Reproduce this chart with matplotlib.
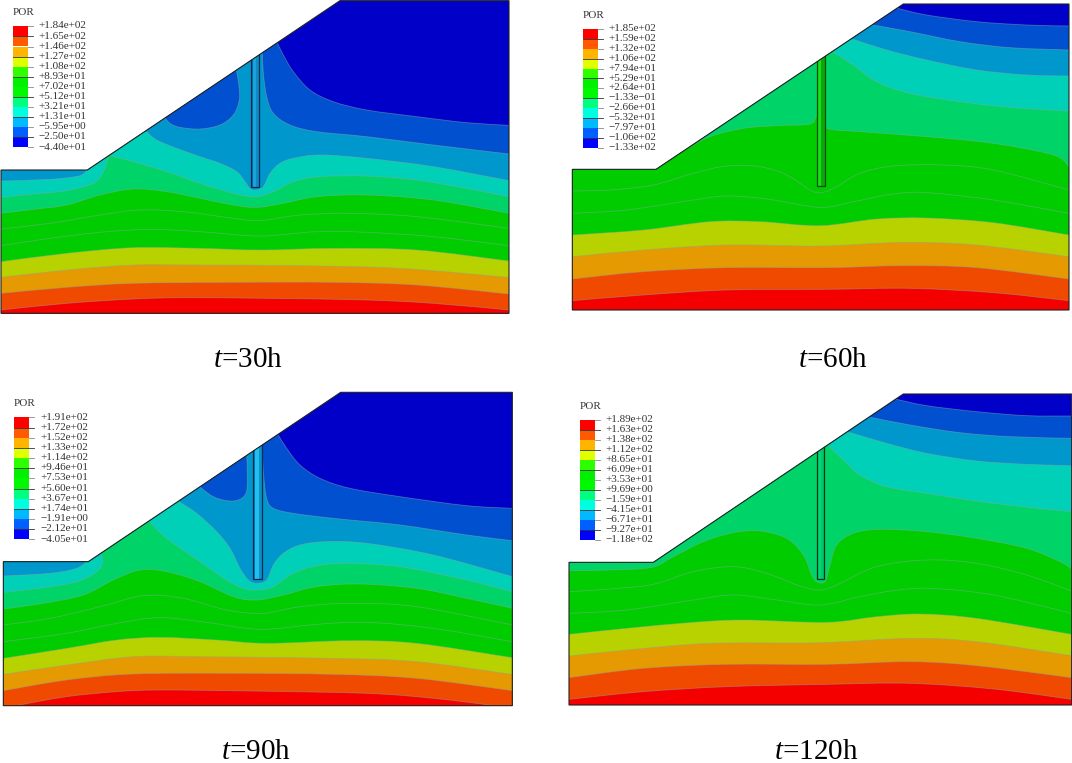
import numpy as np
import matplotlib
matplotlib.use("Agg")
import matplotlib.pyplot as plt
from matplotlib.path import Path
from matplotlib.patches import PathPatch, Polygon, Rectangle

plt.rcParams['font.family'] = ['Liberation Serif', 'DejaVu Serif']
plt.rcParams['mathtext.fontset'] = 'custom'
plt.rcParams['mathtext.rm'] = 'Liberation Serif'
plt.rcParams['mathtext.it'] = 'Liberation Serif:italic'

# ---- legend labels -------------------------------------------------------
labels_30 = ["+1.84e+02","+1.65e+02","+1.46e+02","+1.27e+02","+1.08e+02","+8.93e+01","+7.02e+01","+5.12e+01","+3.21e+01","+1.31e+01","\u22125.95e+00","\u22122.50e+01","\u22124.40e+01"]
labels_60 = ["+1.85e+02","+1.59e+02","+1.32e+02","+1.06e+02","+7.94e+01","+5.29e+01","+2.64e+01","\u22121.33e\u221201","\u22122.66e+01","\u22125.32e+01","\u22127.97e+01","\u22121.06e+02","\u22121.33e+02"]
labels_90 = ["+1.91e+02","+1.72e+02","+1.52e+02","+1.33e+02","+1.14e+02","+9.46e+01","+7.53e+01","+5.60e+01","+3.67e+01","+1.74e+01","\u22121.91e+00","\u22122.12e+01","\u22124.05e+01"]
labels_120 = ["+1.89e+02","+1.63e+02","+1.38e+02","+1.12e+02","+8.65e+01","+6.09e+01","+3.53e+01","+9.69e+00","\u22121.59e+01","\u22124.15e+01","\u22126.71e+01","\u22129.27e+01","\u22121.18e+02"]

# contour colours, top of the slope to the bottom
band_colors = ['#0000c8','#0050d0','#0098cc','#00d0b8','#00d468','#00cc00','#00cc00','#00cc00','#b8d200','#e49a00','#f04a00','#f50000']
legend_colors = ['#ff0000','#ff5a00','#ffb400','#e0ff00','#2eff00','#00f000','#00f800','#00ff80','#00ffe0','#00b9ff','#0060ff','#0000ff']

# ---- t = 30 h ------------------------------------------------------------
dom_30 = [(3,510),(262,510),(1020,2),(1527,2),(1527,940),(3,940)]
b30_1 = [(832,128),(850,165),(880,215),(930,270),(1000,305),(1100,330),(1250,350),(1400,368),(1527,376)]
b30_2 = [(787,160),(790,220),(800,290),(820,340),(870,375),(950,395),(1100,410),(1300,435),(1527,462)]
b30_3 = [(440,395),(470,420),(530,445),(600,470),(660,490),(710,515),(735,545),(750,565),(765,570),(790,560),(810,520),(840,490),(880,475),(960,465),(1100,475),(1300,500),(1527,542)]
b30_4 = [(330,467),(400,485),(500,515),(600,550),(700,580),(765,590),(820,575),(880,545),(960,530),(1100,528),(1250,540),(1400,565),(1527,590)]
b30_5 = [(3,640),(100,628),(200,615),(300,585),(400,567),(500,575),(600,595),(700,615),(770,622),(850,610),(950,590),(1100,585),(1300,600),(1527,640)]
b30_6 = [(3,687),(150,670),(300,645),(420,630),(550,635),(700,655),(780,662),(900,645),(1050,640),(1250,650),(1527,685)]
b30_7 = [(3,737),(150,715),(300,697),(450,688),(600,695),(780,708),(950,695),(1100,697),(1300,710),(1527,737)]
b30_8 = [(3,785),(200,760),(400,743),(600,745),(780,750),(1000,745),(1250,750),(1527,783)]
b30_9 = [(3,832),(200,810),(400,795),(600,795),(900,797),(1200,805),(1527,832)]
b30_10 = [(3,880),(200,862),(400,850),(700,847),(1000,847),(1250,855),(1527,882)]
b30_11 = [(3,930),(200,910),(400,897),(550,893),(800,895),(1100,900),(1300,910),(1527,930)]
pocket_30 = [(708,205),(716,250),(718,300),(700,345),(660,375),(600,387),(540,382),(510,370),(488,345)]
cyan_30 = [(3,592),(100,582),(200,572),(280,550),(305,525),(320,490),(328,462)]
teal_30 = [(3,543),(150,538),(240,527),(262,505)]

# ---- t = 60 h ------------------------------------------------------------
dom_60 = [(37,508),(288,508),(1030,12),(1527,12),(1527,930),(37,930)]
b60_1 = [(1008,24),(1100,45),(1250,65),(1400,75),(1527,78)]
b60_2 = [(938,75),(1050,95),(1200,125),(1350,143),(1527,150)]
b60_3 = [(880,118),(980,150),(1100,180),(1250,210),(1400,225),(1527,228)]
b60_4 = [(820,157),(880,195),(950,245),(1050,280),(1200,305),(1350,322),(1527,333)]
b60_5 = [(375,450),(450,410),(550,385),(650,377),(750,372),(768,350),(785,350),(800,385),(900,395),(1100,410),(1300,430),(1480,465),(1527,500)]
b60_6 = [(37,573),(150,570),(280,555),(400,520),(500,498),(600,500),(680,525),(750,570),(785,578),(830,560),(900,520),(1000,498),(1150,495),(1300,510),(1527,570)]
b60_7 = [(37,640),(200,630),(400,600),(500,588),(620,597),(780,622),(880,605),(1000,582),(1100,578),(1300,600),(1527,640)]
b60_8 = [(37,705),(250,690),(450,665),(600,665),(780,677),(950,657),(1100,654),(1300,668),(1527,705)]
b60_9 = [(37,770),(250,750),(500,735),(780,738),(1030,727),(1250,735),(1527,770)]
b60_10 = [(37,837),(250,815),(500,803),(800,803),(1030,797),(1250,803),(1527,837)]
b60_11 = [(37,902),(250,885),(500,870),(800,868),(1050,865),(1300,878),(1527,902)]

# ---- t = 90 h ------------------------------------------------------------
dom_90 = [(10,530),(265,530),(1022,22),(1537,22),(1537,962),(10,962)]
b90_1 = [(835,150),(860,190),(900,240),(960,280),(1050,310),(1200,335),(1400,362),(1537,370)]
b90_2 = [(787,180),(790,260),(800,340),(820,370),(880,385),(1000,400),(1200,420),(1400,450),(1537,467)]
b90_3 = [(537,350),(590,385),(650,440),(690,490),(720,550),(745,585),(770,595),(800,585),(820,540),(850,505),(900,480),(980,470),(1100,475),(1300,510),(1537,575)]
b90_4 = [(450,412),(500,460),(600,530),(680,585),(730,610),(770,615),(820,605),(880,565),(950,542),(1050,535),(1200,545),(1400,585),(1537,620)]
b90_5 = [(10,672),(130,655),(250,630),(340,585),(420,555),(500,560),(600,590),(700,635),(770,645),(850,630),(950,605),(1080,597),(1250,610),(1400,640),(1537,670)]
b90_6 = [(10,720),(150,700),(300,665),(430,632),(550,640),(680,675),(790,685),(900,665),(1050,655),(1250,665),(1537,720)]
b90_7 = [(10,770),(200,745),(350,715),(480,698),(620,712),(780,733),(950,718),(1100,712),(1300,730),(1537,770)]
b90_8 = [(10,820),(200,790),(350,765),(480,757),(650,765),(800,775),(1050,767),(1250,775),(1537,818)]
b90_9 = [(10,868),(200,840),(400,815),(600,815),(1000,820),(1250,830),(1537,868)]
b90_10 = [(10,917),(200,885),(400,867),(700,865),(1000,868),(1250,880),(1537,917)]
b90_11 = [(10,975),(50,962),(200,935),(350,920),(480,915),(750,918),(1100,925),(1300,940),(1480,962),(1537,975)]
pocket_90 = [(740,200),(742,280),(738,325),(715,345),(680,347),(640,335),(605,310),(598,298)]
cyan_90 = [(10,622),(130,608),(230,590),(290,560),(308,530),(300,500)]
teal_90 = [(10,573),(150,565),(230,550),(265,525)]

# ---- t = 120 h -----------------------------------------------------------
dom_120 = [(27,532),(280,532),(1030,27),(1535,27),(1535,960),(27,960)]
b120_1 = [(1005,42),(1100,62),(1250,80),(1400,92),(1535,93)]
b120_2 = [(932,97),(1050,120),(1200,143),(1350,155),(1535,160)]
b120_3 = [(868,142),(980,175),(1100,205),(1250,228),(1400,238),(1535,242)]
b120_4 = [(808,185),(850,225),(900,270),(980,305),(1100,325),(1300,355),(1535,380)]
b120_5 = [(27,557),(150,555),(275,547),(340,515),(430,470),(520,443),(600,438),(680,460),(730,510),(755,570),(770,590),(795,590),(810,540),(830,480),(880,445),(960,433),(1100,440),(1250,460),(1400,490),(1500,530),(1535,552)]
b120_6 = [(27,620),(150,612),(280,598),(400,560),(520,545),(620,565),(720,603),(780,615),(830,600),(950,545),(1100,525),(1250,535),(1400,570),(1535,618)]
b120_7 = [(27,685),(200,675),(400,645),(520,630),(650,645),(780,660),(900,635),(1000,617),(1110,610),(1300,630),(1535,685)]
b120_8 = [(27,748),(200,730),(400,712),(550,705),(800,712),(950,695),(1080,687),(1250,700),(1535,748)]
b120_9 = [(27,813),(200,795),(450,775),(780,773),(1050,760),(1250,770),(1535,812)]
b120_10 = [(27,878),(250,850),(500,838),(800,838),(1050,830),(1250,842),(1535,878)]
b120_11 = [(27,943),(250,920),(500,905),(800,898),(1050,895),(1300,912),(1535,943)]

panels = [
    dict(origin=(0,0), size=(520,320), dom=dom_30, curves=[b30_1,b30_2,b30_3,b30_4,b30_5,b30_6,b30_7,b30_8,b30_9,b30_10,b30_11],
         pocket=pocket_30, cyan=cyan_30, teal=teal_30, well=(752,778,562),
         strips=['#0b6fa8','#1aa4dc','#0a8cc4'], well_edge='#0a2a50',
         legend=(38,84,79,442), labels=labels_30, label_x=115, por=(37,38)),
    dict(origin=(560,0), size=(512,320), dom=dom_60, curves=[b60_1,b60_2,b60_3,b60_4,b60_5,b60_6,b60_7,b60_8,b60_9,b60_10,b60_11],
         pocket=None, cyan=None, teal=None, well=(770,794,558),
         strips=['#0a7a0a','#18e018','#0aa80a'], well_edge='#0a4a0a',
         legend=(70,115,87,443), labels=labels_60, label_x=145, por=(68,48)),
    dict(origin=(0,385), size=(520,325), dom=dom_90, curves=[b90_1,b90_2,b90_3,b90_4,b90_5,b90_6,b90_7,b90_8,b90_9,b90_10,b90_11],
         pocket=pocket_90, cyan=cyan_90, teal=teal_90, well=(760,786,582),
         strips=['#0b7fb8','#22c0ee','#0b90c8'], well_edge='#0a2a50',
         legend=(43,88,97,463), labels=labels_90, label_x=120, por=(42,57)),
    dict(origin=(560,385), size=(512,325), dom=dom_120, curves=[b120_1,b120_2,b120_3,b120_4,b120_5,b120_6,b120_7,b120_8,b120_9,b120_10,b120_11],
         pocket=None, cyan=None, teal=None, well=(770,793,583),
         strips=['#00b468','#00d870','#00c868'], well_edge='#053020',
         legend=(60,105,104,466), labels=labels_120, label_x=135, por=(60,64)),
]
captions = ["30h", "60h", "90h", "120h"]
caption_x = [248, 833, 256, 816]
caption_base = [367, 367, 759, 759]

W, H = 1072, 763
fig = plt.figure(figsize=(W/100, H/100), dpi=100, facecolor='white')


def smooth_path(pts):
    """Smooth cubic path through the read points (Catmull-Rom tangents)."""
    p = np.asarray(pts, float)
    verts, codes = [p[0]], [Path.MOVETO]
    n = len(p)
    for i in range(n-1):
        a = p[max(i-1, 0)]; b = p[i]; c = p[i+1]; d = p[min(i+2, n-1)]
        verts += [b + (c-a)/6, c - (d-b)/6, c]
        codes += [Path.CURVE4]*3
    return verts, codes


def draw_panel(cfg):
    x0, y0 = cfg['origin']; w, h = cfg['size']
    ax = fig.add_axes([x0/W, 1-(y0+h)/H, w/W, h/H])
    ax.set_xlim(0, 3*w); ax.set_ylim(3*h, 0); ax.axis('off')
    dom = np.array(cfg['dom'], float)
    left, right = dom[:,0].min(), dom[:,0].max()
    top, bottom = dom[:,1].min(), dom[:,1].max()
    clip = Polygon(dom, closed=True, transform=ax.transData)
    ax.add_patch(Polygon(dom, closed=True, fc=band_colors[0], ec='none', zorder=1))
    lines = []
    for k, curve in enumerate(cfg['curves']):
        v, c = smooth_path(curve)
        sx, sy = curve[0]; ex, ey = curve[-1]
        head = [(left-20, sy)] if sx <= left else [(left-20, top-20)]
        tail = [(right+20, ey), (right+20, bottom+20), (left-20, bottom+20)]
        verts = [head[0]] + v + tail + head
        codes = [Path.MOVETO, Path.LINETO] + c[1:] + [Path.LINETO]*(len(tail)+1)
        patch = PathPatch(Path(verts, codes), fc=band_colors[k+1], ec='none', zorder=2+k*0.01)
        ax.add_patch(patch); patch.set_clip_path(clip)
        lines.append((v, c))
    # closed regions that the layers cannot describe
    extras = []
    if cfg['cyan']:
        extras.append((cfg['cyan'], band_colors[3]))
        extras.append((cfg['teal'], band_colors[2]))
    for pts, col in extras:
        v, c = smooth_path(pts)
        sy = pts[0][1]
        verts = [(left-20, sy)] + v + [(left-20, top-20), (left-20, sy)]
        codes = [Path.MOVETO, Path.LINETO] + c[1:] + [Path.LINETO, Path.LINETO]
        patch = PathPatch(Path(verts, codes), fc=col, ec='none', zorder=3)
        ax.add_patch(patch); patch.set_clip_path(clip)
        lines.append((v, c))
    if cfg['pocket']:
        v, c = smooth_path(cfg['pocket'])
        patch = PathPatch(Path(v + [v[0]], c + [Path.CLOSEPOLY]), fc=band_colors[1], ec='none', zorder=3)
        ax.add_patch(patch); patch.set_clip_path(clip)
        lines.append((v, c))
    for v, c in lines:
        ln = PathPatch(Path(v, c), fc='none', ec='#8aa6a6', lw=0.6, alpha=0.5, zorder=4)
        ax.add_patch(ln); ln.set_clip_path(clip)
    # well
    wl, wr, wb = cfg['well']
    sw = (wr-wl)
    edges = [wl, wl+0.22*sw, wl+0.6*sw, wr]
    for j, col in enumerate(cfg['strips']):
        r = Rectangle((edges[j], top), edges[j+1]-edges[j], wb-top, fc=col, ec='none', zorder=5)
        ax.add_patch(r); r.set_clip_path(clip)
    r = Rectangle((wl, top), sw, wb-top, fc='none', ec=cfg['well_edge'], lw=0.9, zorder=6)
    ax.add_patch(r); r.set_clip_path(clip)
    # outline
    ax.add_patch(Polygon(dom, closed=True, fc='none', ec='#222222', lw=0.8, zorder=7))
    # legend
    lx0, lx1, ly0, ly1 = cfg['legend']
    ys = np.linspace(ly0, ly1, 13)
    for j, col in enumerate(legend_colors):
        ax.add_patch(Rectangle((lx0, ys[j]), lx1-lx0, ys[j+1]-ys[j], fc=col, ec='none', zorder=8))
    for j, y in enumerate(ys):
        long_tick = j % 2 == 1 and j < 12
        ax.plot([lx0 if long_tick else lx1, lx1+15], [y, y], color='#333333' if long_tick else '#888888', lw=0.6, zorder=9)
        ax.text(cfg['label_x'], y-1, cfg['labels'][j], fontsize=8, color='#333333', va='center', ha='left', zorder=9)
    ax.text(cfg['por'][0], cfg['por'][1], 'POR', fontsize=8, color='#333333', va='center', ha='left', zorder=9)


for cfg in panels:
    draw_panel(cfg)

for t, x, y in zip(captions, caption_x, caption_base):
    fig.text(x/W, 1-y/H, r'$\mathit{t}$=' + t, fontsize=21, color='black', ha='center', va='baseline')

fig.savefig('out.png', dpi=100, facecolor='white')
